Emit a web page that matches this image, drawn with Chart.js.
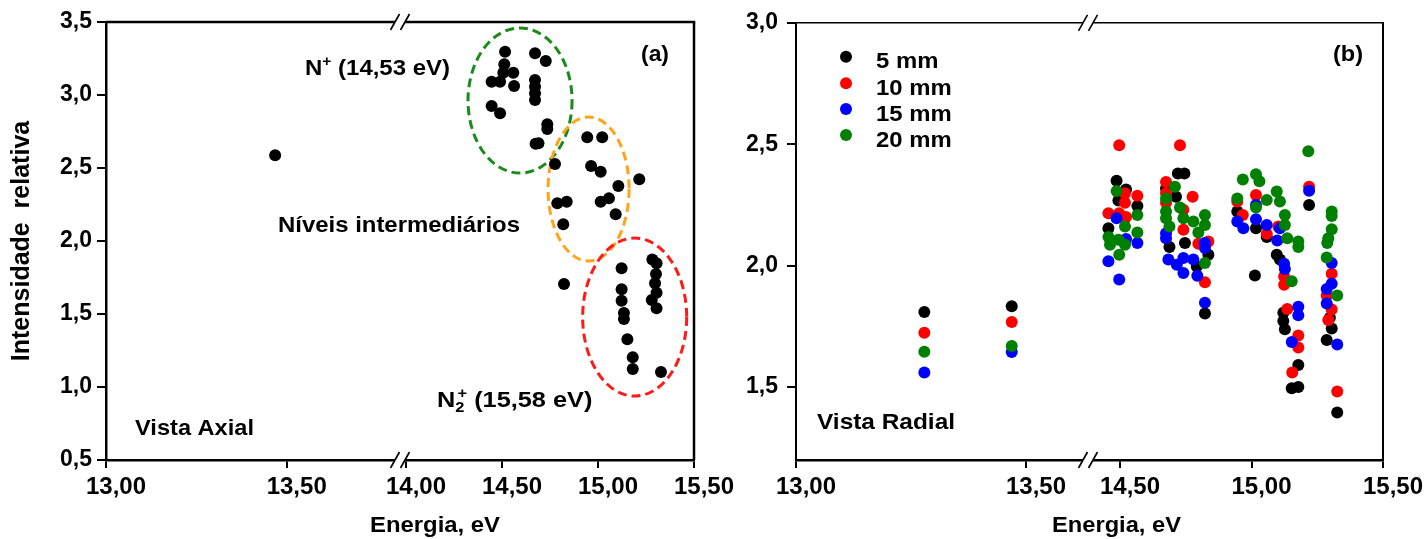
<!DOCTYPE html>
<html><head><meta charset="utf-8">
<script src="https://cdn.jsdelivr.net/npm/chart.js@4.4.1/dist/chart.umd.min.js"></script>
<style>
html,body{margin:0;padding:0;background:#fff;width:1424px;height:539px;overflow:hidden;position:relative}
canvas{position:absolute;top:0}
#ca{left:0}
#cb{left:712px}
</style></head><body>
<canvas id="ca" width="760" height="539" style="width:760px;height:539px"></canvas>
<canvas id="cb" width="712" height="539" style="width:712px;height:539px"></canvas>
<script>
// ================= DATA =================
// Panel (a) - Vista Axial
const axialEnergy = [13.468,14.516,14.672,14.728,14.512,14.507,14.559,14.446,14.490,14.563,14.672,14.672,14.672,14.672,14.446,14.490,14.736,14.736,14.675,14.690,
  14.776,14.944,15.022,14.964,15.014,15.215,15.106,15.057,15.014,14.788,14.837,15.092,14.819,14.823,
  15.123,15.123,15.123,15.135,15.135,15.153,15.181,15.181,15.328,15.283,15.305,15.302,15.297,15.305,15.280,15.305];
const axialIntensity = [2.587,3.297,3.286,3.233,3.210,3.153,3.153,3.091,3.091,3.062,3.103,3.057,3.012,2.966,2.925,2.875,2.799,2.767,2.666,2.669,
  2.527,2.710,2.710,2.514,2.475,2.423,2.377,2.292,2.269,2.258,2.269,2.183,2.114,1.705,
  1.813,1.669,1.591,1.507,1.466,1.327,1.203,1.123,1.103,1.874,1.847,1.774,1.710,1.646,1.596,1.539];

// Panel (b) - Vista Radial
const seriesNames = ['5 mm','10 mm','15 mm','20 mm'];
const seriesColors = ['#000000','#ff0000','#0000ff','#008000'];
const radial5Energy = [13.279,13.469,14.487,14.523,14.494,14.566,14.456,14.720,14.745,14.675,14.713,14.688,14.747,14.836,14.792,14.823,
  14.946,15.017,15.058,15.096,15.108,15.013,15.219,15.121,15.121,15.127,15.178,15.153,15.178,15.298,15.305,15.286,15.326];
const radial5Intensity = [1.809,1.833,2.350,2.314,2.268,2.246,2.154,2.380,2.380,2.318,2.284,2.077,2.093,2.045,1.997,1.803,
  2.223,2.154,2.118,2.045,2.025,1.960,2.250,1.806,1.772,1.738,1.591,1.495,1.501,1.786,1.741,1.694,1.396];
const radial10Energy = [13.279,13.469,14.497,14.519,14.566,14.519,14.456,14.497,14.523,14.728,14.675,14.675,14.776,14.675,14.741,14.741,14.798,14.836,14.823,
  15.017,14.946,14.967,15.058,15.102,15.124,15.124,15.136,15.178,15.178,15.155,15.219,15.305,15.286,15.305,15.292,15.326];
const radial10Intensity = [1.724,1.768,2.496,2.298,2.288,2.259,2.216,2.216,2.200,2.496,2.345,2.298,2.284,2.259,2.230,2.148,2.090,2.100,1.932,
  2.291,2.264,2.209,2.131,2.161,1.956,1.922,1.822,1.713,1.663,1.560,2.325,1.967,1.877,1.820,1.776,1.482];
const radial15Energy = [13.279,13.469,14.487,14.566,14.456,14.497,14.523,14.675,14.675,14.823,14.823,14.684,14.716,14.741,14.779,14.741,14.794,14.823,
  15.017,14.946,14.969,15.017,15.058,15.108,15.098,15.124,15.127,15.178,15.178,15.153,15.219,15.305,15.305,15.286,15.286,15.326];
const radial15Intensity = [1.560,1.645,2.195,2.093,2.018,1.943,2.110,2.134,2.113,2.093,2.073,2.025,2.004,2.032,2.025,1.970,1.959,1.847,
  2.250,2.182,2.154,2.191,2.168,2.154,2.104,2.008,1.986,1.831,1.796,1.686,2.309,2.011,1.926,1.904,1.844,1.676];
const radial20Energy = [13.279,13.469,14.487,14.566,14.519,14.566,14.456,14.462,14.494,14.519,14.497,14.709,14.675,14.728,14.675,14.675,14.741,14.779,14.823,14.823,14.688,14.798,14.823,
  15.216,14.967,15.017,15.030,14.946,15.017,15.058,15.096,15.108,15.127,15.127,15.136,15.178,15.178,15.153,15.305,15.305,15.305,15.292,15.288,15.286,15.326];
const radial20Intensity = [1.646,1.669,2.307,2.209,2.161,2.137,2.118,2.086,2.107,2.086,2.045,2.325,2.277,2.240,2.223,2.195,2.195,2.182,2.209,2.168,2.161,2.137,2.011,
  2.471,2.355,2.376,2.348,2.277,2.240,2.270,2.305,2.264,2.209,2.168,2.113,2.100,2.077,1.936,2.223,2.205,2.150,2.113,2.093,2.034,1.877];

// Tick values and labels
const xTickEnergyA = [13, 13.5, 14, 14.5, 15, 15.5];
const xTickLabelsA = ['13,00','13,50','14,00','14,50','15,00','15,50'];
const xTickEnergyB = [13, 13.5, 14.5, 15, 15.5];
const xTickLabelsB = ['13,00','13,50','14,50','15,00','15,50'];
const yTicksA = [0.5, 1.0, 1.5, 2.0, 2.5, 3.0, 3.5];
const yTicksB = [1.5, 2.0, 2.5, 3.0];

// ================= BROKEN-AXIS MAPPINGS =================
// Each panel's x axis is broken: energy is mapped to a continuous axis unit.
function uA(e){ return e < 13.9 ? (e - 13) * 361.4 : 300 + (e - 14) * 192; }
function uB(e){ return e < 14.0 ? (e - 13) * 460 : 324 + (e - 14.5) * 263; }
const fmt1 = v => v.toFixed(1).replace('.', ',');
const FONT = '"Liberation Sans", Arial, sans-serif';

// ================= DRAW HELPERS =================
function richWidth(ctx, parts, size){
  let cx = 0, lastX = 0;
  parts.forEach(p => {
    const s = p.k ? size * 0.65 : size;
    ctx.font = `bold ${s}px ${FONT}`;
    const w = ctx.measureText(p.t).width;
    const px = p.stack ? lastX : cx;
    if (p.stack) cx = Math.max(cx, px + w); else { lastX = px; cx = px + w; }
  });
  return cx;
}
function drawRich(ctx, parts, x, y, size, targetW, align){
  const nat = richWidth(ctx, parts, size);
  const sx = targetW ? targetW / nat : 1;
  const tw = nat * sx;
  let x0 = x;
  if (align === 'center') x0 = x - tw / 2;
  ctx.save();
  ctx.translate(x0, y);
  ctx.scale(sx, 1);
  ctx.fillStyle = '#000';
  ctx.textAlign = 'left';
  ctx.textBaseline = 'alphabetic';
  let cx = 0, lastX = 0;
  parts.forEach(p => {
    const s = p.k ? size * 0.65 : size;
    ctx.font = `bold ${s}px ${FONT}`;
    let dy = 0;
    if (p.k === 'sup') dy = -size * 0.4;
    if (p.k === 'sub') dy = size * 0.22;
    const px = p.stack ? lastX + 2 : cx;
    ctx.fillText(p.t, px, dy);
    const w = ctx.measureText(p.t).width;
    if (p.stack) cx = Math.max(cx, px + w); else { lastX = px; cx = px + w; }
  });
  ctx.restore();
}
function drawFrame(ctx, area, topW, rightW){
  ctx.save();
  ctx.strokeStyle = '#000';
  ctx.lineWidth = topW;
  ctx.beginPath(); ctx.moveTo(area.left, area.top); ctx.lineTo(area.right + rightW/2, area.top); ctx.stroke();
  ctx.lineWidth = rightW;
  ctx.beginPath(); ctx.moveTo(area.right, area.top); ctx.lineTo(area.right, area.bottom); ctx.stroke();
  ctx.restore();
}
function drawBreak(ctx, bx, y){
  ctx.save();
  ctx.fillStyle = '#fff';
  ctx.fillRect(bx - 5, y - 3, 10, 6);
  ctx.strokeStyle = '#000';
  ctx.lineWidth = 1.6;
  [-5, 5].forEach(o => {
    ctx.beginPath();
    ctx.moveTo(bx + o - 4.5, y + 8);
    ctx.lineTo(bx + o + 4.5, y - 8);
    ctx.stroke();
  });
  ctx.restore();
}

// ================= PANEL (a) =================
const ellipsesA = [
  {cx:14.594, cy:2.962, rx:0.271, ry:0.497, color:'#1a8a1a'},
  {cx:14.951, cy:2.356, rx:0.211, ry:0.493, color:'#ffa31a'},
  {cx:15.191, cy:1.479, rx:0.271, ry:0.541, color:'#ff1a1a'}
];
const overlayA = {
  id: 'overlayA',
  beforeDatasetsDraw(chart){
    const {ctx, scales:{x, y}} = chart;
    ellipsesA.forEach(el => {
      const cxp = x.getPixelForValue(uA(el.cx));
      const rxp = x.getPixelForValue(uA(el.cx + el.rx)) - cxp;
      const cyp = y.getPixelForValue(el.cy);
      const ryp = cyp - y.getPixelForValue(el.cy + el.ry);
      ctx.save();
      ctx.strokeStyle = el.color;
      ctx.lineWidth = 3;
      ctx.setLineDash([9, 5]);
      ctx.beginPath();
      ctx.ellipse(cxp, cyp, rxp, ryp, 0, 0, Math.PI * 2);
      ctx.stroke();
      ctx.restore();
    });
  },
  afterDraw(chart){
    const {ctx, chartArea, scales:{x}} = chart;
    drawFrame(ctx, chartArea, 2.5, 2.5);
    const bx = x.getPixelForValue(294);
    drawBreak(ctx, bx, chartArea.top);
    drawBreak(ctx, bx, chartArea.bottom);
    drawRich(ctx, [{t:'N'},{t:'+',k:'sup'},{t:' (14,53 eV)'}], 305, 75, 22, 145);
    drawRich(ctx, [{t:'Níveis intermediários'}], 278, 232, 22, 242);
    drawRich(ctx, [{t:'N'},{t:'2',k:'sub'},{t:'+',k:'sup',stack:true},{t:' (15,58 eV)'}], 437, 407, 22, 153);
    drawRich(ctx, [{t:'Vista Axial'}], 135, 435, 22, 119);
    drawRich(ctx, [{t:'(a)'}], 641, 61, 22, 28);
    drawRich(ctx, [{t:'Energia, eV'}], 435, 532, 22, 130, 'center');
  }
};

new Chart(document.getElementById('ca'), {
  type: 'scatter',
  data: {
    datasets: [{
      label: 'Vista Axial',
      data: axialEnergy.map((e, i) => ({x: uA(e), y: axialIntensity[i]})),
      backgroundColor: '#000', borderWidth: 0, pointRadius: 6, pointHoverRadius: 6
    }]
  },
  options: {
    responsive: false, animation: false, devicePixelRatio: 1,
    layout: {padding: {left: 0, right: 66, top: 22, bottom: 0}, autoPadding: false},
    plugins: {legend: {display: false}, tooltip: {enabled: false}},
    scales: {
      x: {
        type: 'linear', min: 0, max: 588,
        afterFit(s){ s.height = 79; },
        afterBuildTicks(s){ s.ticks = xTickEnergyA.map(e => ({value: uA(e)})); },
        ticks: {callback: (v, i) => xTickLabelsA[i], color: '#000', font: {family: FONT, size: 24, weight: 'bold'},
                labelOffset: 10, padding: 5, maxRotation: 0, autoSkip: false},
        grid: {drawOnChartArea: false, drawTicks: true, tickLength: 8, color: '#000', lineWidth: 2},
        border: {display: true, color: '#000', width: 2.5}
      },
      y: {
        type: 'linear', min: 0.5, max: 3.5,
        afterFit(s){ s.width = 106; },
        afterBuildTicks(s){ s.ticks = yTicksA.map(v => ({value: v})); },
        ticks: {callback: v => fmt1(v), color: '#000', font: {family: FONT, size: 23, weight: 'bold'}, padding: 5},
        grid: {drawOnChartArea: false, drawTicks: true, tickLength: 9, color: '#000', lineWidth: 2},
        border: {display: true, color: '#000', width: 2.5}, 
        title: {display: true, text: 'Intensidade  relativa', color: '#000',
                font: {family: FONT, size: 25, weight: 'bold'}, padding: {top: 7, bottom: 0}}
      }
    }
  },
  plugins: [overlayA]
});

// ================= PANEL (b) =================
const OFFB = 712;
const overlayB = {
  id: 'overlayB',
  afterDraw(chart){
    const {ctx, chartArea, scales:{x}} = chart;
    drawFrame(ctx, chartArea, 1.6, 2);
    const bx = x.getPixelForValue(292);
    drawBreak(ctx, bx, chartArea.top);
    drawBreak(ctx, bx, chartArea.bottom);
    // legend
    const legY = [56.7, 83.3, 109, 135];
    seriesNames.forEach((n, i) => {
      ctx.save();
      ctx.fillStyle = seriesColors[i];
      ctx.beginPath(); ctx.arc(846 - OFFB, legY[i], 6, 0, Math.PI * 2); ctx.fill();
      ctx.restore();
      const natTen = richWidth(ctx, [{t:'10 mm'}], 22);
      const w = richWidth(ctx, [{t:n}], 22) * 75.7 / natTen;
      drawRich(ctx, [{t:n}], 876 - OFFB, legY[i] + 11.6, 22, w);
    });
    drawRich(ctx, [{t:'(b)'}], 1333 - OFFB, 61, 22, 30);
    drawRich(ctx, [{t:'Vista Radial'}], 817 - OFFB, 429, 22, 138);
    drawRich(ctx, [{t:'Energia, eV'}], 1116.5 - OFFB, 532, 22, 129, 'center');
  }
};
const radialEnergy = [radial5Energy, radial10Energy, radial15Energy, radial20Energy];
const radialIntensity = [radial5Intensity, radial10Intensity, radial15Intensity, radial20Intensity];

new Chart(document.getElementById('cb'), {
  type: 'scatter',
  data: {
    datasets: seriesNames.map((n, s) => ({
      label: n,
      data: radialEnergy[s].map((e, i) => ({x: uB(e), y: radialIntensity[s][i]})),
      backgroundColor: seriesColors[s], borderWidth: 0, pointRadius: 6, pointHoverRadius: 6,
      order: 4 - s
    }))
  },
  options: {
    responsive: false, animation: false, devicePixelRatio: 1,
    layout: {padding: {left: 0, right: 41, top: 22, bottom: 0}, autoPadding: false},
    plugins: {legend: {display: false}, tooltip: {enabled: false}},
    scales: {
      x: {
        type: 'linear', min: 0, max: 587,
        afterFit(s){ s.height = 79; },
        afterBuildTicks(s){ s.ticks = xTickEnergyB.map(e => ({value: uB(e)})); },
        ticks: {callback: (v, i) => xTickLabelsB[i], color: '#000', font: {family: FONT, size: 24, weight: 'bold'},
                labelOffset: 10, padding: 5, maxRotation: 0, autoSkip: false},
        grid: {drawOnChartArea: false, drawTicks: true, tickLength: 8, color: '#000', lineWidth: 2},
        border: {display: true, color: '#000', width: 2.5}
      },
      y: {
        type: 'linear', min: 1.2, max: 3.0,
        afterFit(s){ s.width = 84; },
        afterBuildTicks(s){ s.ticks = yTicksB.map(v => ({value: v})); },
        ticks: {callback: v => fmt1(v), color: '#000', font: {family: FONT, size: 23, weight: 'bold'}, padding: 9},
        grid: {drawOnChartArea: false, drawTicks: true, tickLength: 9, color: '#000', lineWidth: 2},
        border: {display: true, color: '#000', width: 2}
      }
    }
  },
  plugins: [overlayB]
});
</script>
</body></html>
